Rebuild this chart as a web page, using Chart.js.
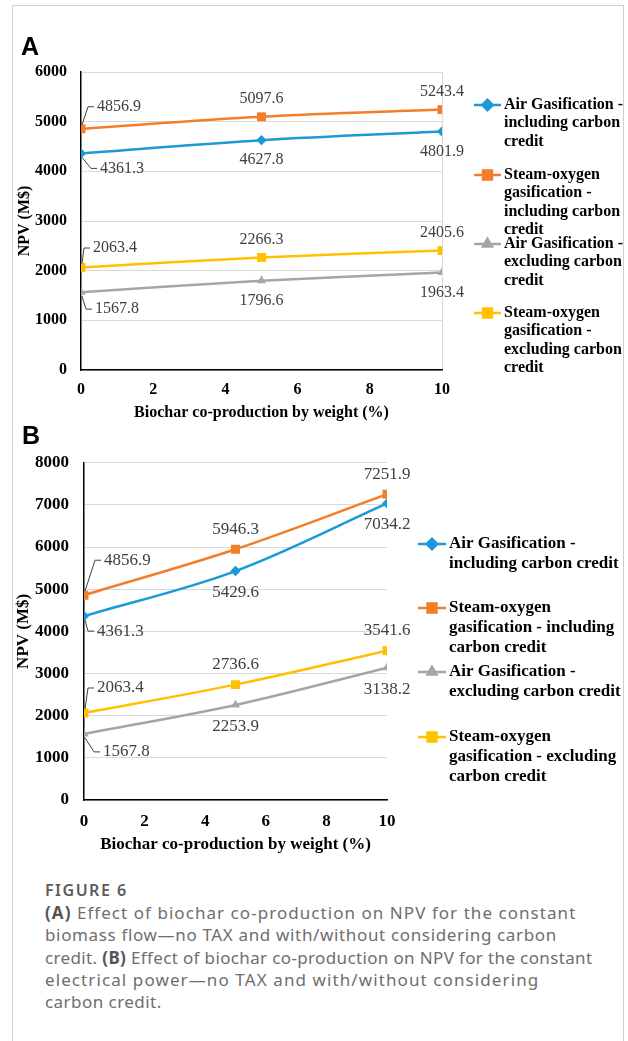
<!DOCTYPE html>
<html>
<head>
<meta charset="utf-8">
<script src="https://cdn.jsdelivr.net/npm/chart.js@4.4.1/dist/chart.umd.min.js"></script>
<style>
  body { margin: 0; background: #fff; width: 628px; height: 1041px; overflow: hidden; position: relative; }
  .frame { position: absolute; left: 12px; top: 5px; width: 610px; height: 1100px; border: 1px solid #cfcfcf; }
  canvas { position: absolute; left: 0; }
  .tag { position: absolute; font: bold 25px "Liberation Sans", Arial, sans-serif; color: #000; }
  .cap { position: absolute; left: 45px; top: 879px; font-family: "Noto Sans", sans-serif; color: #6e6e6e; white-space: nowrap; }
  .cap .fig { font-size: 16px; font-weight: 600; color: #5c5c5c; line-height: 23px; letter-spacing: 1.5px; }
  .cap .ln { display: block; font-size: 17px; line-height: 22.3px; }
  .cap b { font-weight: 700; color: #555; }
</style>
</head>
<body>
<div class="frame"></div>
<canvas id="chartA" width="628" height="425" style="top:0"></canvas>
<canvas id="chartB" width="628" height="440" style="top:425px"></canvas>
<div class="tag" style="left:21px; top:32px">A</div>
<div class="tag" style="left:22px; top:421px">B</div>
<div class="cap">
  <div class="fig">FIGURE 6</div>
  <span class="ln" style="letter-spacing:1.05px"><b>(A)</b> Effect of biochar co-production on NPV for the constant</span>
  <span class="ln" style="letter-spacing:0.65px">biomass flow—no TAX and with/without considering carbon</span>
  <span class="ln" style="letter-spacing:0.36px">credit. <b>(B)</b> Effect of biochar co-production on NPV for the constant</span>
  <span class="ln" style="letter-spacing:1.1px">electrical power—no TAX and with/without considering</span>
  <span class="ln" style="letter-spacing:0.45px">carbon credit.</span>
</div>
<script>
// biochar co-production by weight (%)
var xValues = [0, 5, 10];
var colors = ["#1b9ad7", "#f47d2a", "#a5a5a5", "#ffc000"];
var markers = ["rectRot", "rect", "triangle", "rect"];

// (A) constant biomass flow
var airInclA = [4361.3, 4627.8, 4801.9];
var steamInclA = [4856.9, 5097.6, 5243.4];
var airExclA = [1567.8, 1796.6, 1963.4];
var steamExclA = [2063.4, 2266.3, 2405.6];
var legendA = [
  ["Air Gasification -", "including carbon", "credit"],
  ["Steam-oxygen", "gasification -", "including carbon", "credit"],
  ["Air Gasification -", "excluding carbon", "credit"],
  ["Steam-oxygen", "gasification -", "excluding carbon", "credit"]
];

// (B) constant electrical power
var airInclB = [4361.3, 5429.6, 7034.2];
var steamInclB = [4856.9, 5946.3, 7251.9];
var airExclB = [1567.8, 2253.9, 3138.2];
var steamExclB = [2063.4, 2736.6, 3541.6];
var legendB = [
  ["Air Gasification -", "including carbon credit"],
  ["Steam-oxygen", "gasification - including", "carbon credit"],
  ["Air Gasification -", "excluding carbon credit"],
  ["Steam-oxygen", "gasification - excluding", "carbon credit"]
];

var serif = '"Liberation Serif", "Times New Roman", serif';

// labels, leader lines and the wrapped legend
var decorPlugin = {
  id: 'decor',
  afterDatasetsDraw: function (chart, args, opts) {
    var ctx = chart.ctx;
    ctx.save();
    ctx.font = opts.size + 'px ' + serif;
    ctx.textBaseline = 'middle';
    chart.data.datasets.forEach(function (ds, di) {
      var meta = chart.getDatasetMeta(di);
      var up = opts.above[di];
      meta.data.forEach(function (pt, i) {
        var txt = ds.data[i].y.toFixed(1);
        ctx.fillStyle = '#404040';
        if (i === 0) {
          var off = opts.first[di];
          var tx = pt.x + off[0], ty = pt.y + off[1];
          ctx.textAlign = 'left';
          ctx.fillText(txt, tx, ty);
          ctx.strokeStyle = '#404040';
          ctx.lineWidth = 1;
          ctx.beginPath();
          ctx.moveTo(pt.x + 1, pt.y + (up ? -4 : 4));
          ctx.lineTo(pt.x + off[0] - 9, ty);
          ctx.lineTo(pt.x + off[0] - 3, ty);
          ctx.stroke();
        } else {
          ctx.textAlign = 'center';
          ctx.fillText(txt, pt.x, pt.y + (up ? opts.up : opts.down));
        }
      });
    });
    // legend
    ctx.font = 'bold ' + opts.size + 'px ' + serif;
    ctx.textAlign = 'left';
    opts.legend.forEach(function (lines, di) {
      var ds = chart.data.datasets[di];
      var y = opts.legY[di];
      ctx.strokeStyle = ds.borderColor;
      ctx.lineWidth = 2.5;
      ctx.beginPath();
      ctx.moveTo(opts.legX, y);
      ctx.lineTo(opts.legX + opts.legLen, y);
      ctx.stroke();
      Chart.helpers.drawPoint(ctx, {
        pointStyle: ds.pointStyle, radius: ds.pointRadius, rotation: 0,
        borderWidth: 1
      }, opts.legX + opts.legLen / 2, y);
      ctx.fillStyle = ds.borderColor;
      ctx.fill();
      ctx.fillStyle = '#000';
      lines.forEach(function (l, k) {
        ctx.fillText(l, opts.legX + opts.legLen + 3, y + k * opts.legLH);
      });
    });
    ctx.restore();
  }
};

function makeChart(id, series, cfg) {
  var datasets = series.map(function (vals, i) {
    return {
      data: vals.map(function (v, k) { return { x: xValues[k], y: v }; }),
      borderColor: colors[i],
      backgroundColor: colors[i],
      borderWidth: 2.5,
      pointStyle: markers[i],
      pointRadius: markers[i] === 'rect' ? 6.3 : 5.2,
      pointBorderWidth: 0,
      tension: 0.35,
      fill: false
    };
  });
  var f = cfg.size;
  return new Chart(document.getElementById(id), {
    type: 'line',
    data: { datasets: datasets },
    options: {
      responsive: false,
      animation: false,
      layout: { padding: cfg.padding },
      plugins: {
        legend: { display: false },
        tooltip: { enabled: false },
        decor: cfg.decor
      },
      scales: {
        x: {
          type: 'linear', min: 0, max: 10,
          afterFit: function (s) { s.height = cfg.xh; },
          ticks: { stepSize: 2, padding: cfg.xpad, color: '#000', font: { family: serif, size: f, weight: 'bold' } },
          grid: {
            drawTicks: false,
            color: function (c) { return (cfg.rightLine && c.tick && c.tick.value === 10) ? '#d9d9d9' : 'rgba(0,0,0,0)'; }
          },
          border: { color: '#000', width: 1.5 },
          title: { display: true, text: 'Biochar co-production by weight (%)', color: '#000', padding: { top: 0, bottom: cfg.xtp }, font: { family: serif, size: f, weight: 'bold' } }
        },
        y: {
          min: 0, max: cfg.ymax,
          afterFit: function (s) { s.width = cfg.yw; },
          ticks: {
            stepSize: 1000, padding: cfg.ypad, color: '#000', font: { family: serif, size: f, weight: 'bold' },
            callback: function (v) { return String(v); }
          },
          grid: { drawTicks: false, color: '#d9d9d9', lineWidth: 1 },
          border: { color: '#000', width: 1.5 },
          title: { display: true, text: 'NPV (M$)', color: '#000', padding: cfg.ytp, font: { family: serif, size: f, weight: 'bold' } }
        }
      }
    },
    plugins: [decorPlugin]
  });
}

makeChart('chartA', [airInclA, steamInclA, airExclA, steamExclA], {
  size: 16, ymax: 6000, yw: 81, xh: 55, xpad: 10, xtp: 2.4, ypad: 14, ytp: 15, rightLine: true,
  padding: { left: 0, right: 186, top: 72, bottom: 0 },
  decor: {
    size: 16, up: -18, down: 20,
    above: [false, true, false, true],
    first: [[19, 15], [16, -22], [14, 17], [12, -19.5]],
    legend: legendA, legX: 474, legLen: 27, legLH: 18.3, legY: [105, 175, 244, 313]
  }
});

makeChart('chartB', [airInclB, steamInclB, airExclB, steamExclB], {
  size: 17, ymax: 8000, yw: 84, xh: 58, xpad: 11, xtp: 2.8, ypad: 15, ytp: 13, rightLine: false,
  padding: { left: 0, right: 241, top: 37.7, bottom: 7 },
  decor: {
    size: 17, up: -20, down: 21.5,
    above: [false, true, false, true],
    first: [[13, 15], [20, -35], [19, 18], [13, -25]],
    legend: legendB, legX: 418, legLen: 28, legLH: 20, legY: [119, 183, 247, 312]
  }
});
</script>
</body>
</html>
